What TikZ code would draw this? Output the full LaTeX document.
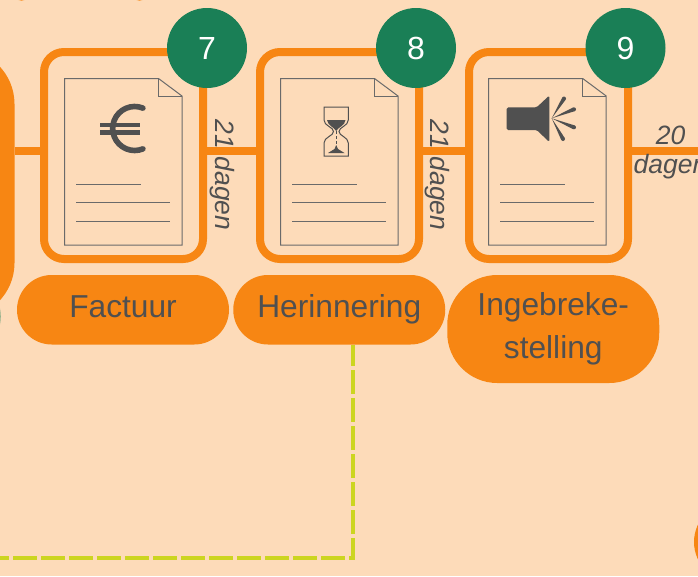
\documentclass[tikz,border=0pt]{standalone}
\usepackage{fontspec}
\usetikzlibrary{calc}
\setmainfont{Liberation Sans}
\definecolor{achter}{HTML}{FDDBB9}
\definecolor{oranje}{HTML}{F78613}
\definecolor{groen}{HTML}{1A7F56}
\definecolor{donker}{HTML}{505050}
\definecolor{lijn}{HTML}{CCD520}
\tikzset{
  frame/.style={draw=oranje, line width=8pt, rounded corners=20pt, minimum width=159pt, minimum height=207pt, outer sep=0pt},
  nummer/.style={circle, fill=groen, text=white, minimum size=80pt, inner sep=0pt, font=\fontsize{32}{32}\selectfont},
  pill/.style={fill=oranje, text=donker, rounded corners=34.7pt, minimum width=212pt, minimum height=69.5pt, inner sep=0pt, align=center, font=\fontsize{31.7}{43}\selectfont},
  stuk/.style={circle, fill=oranje, inner sep=0pt},
  link/.style={draw=oranje, line width=8pt},
  dagen/.style={text=donker, inner sep=0pt, align=center, font=\fontsize{26.5}{29}\selectfont\itshape},
  pagina/.style={draw=donker!85, line width=1pt},
  regel/.style={draw=donker!85, line width=0.9pt},
  icoon/.style={fill=donker, draw=none}
}
\begin{document}
\begin{tikzpicture}[x=1pt,y=-1pt]
  \useasboundingbox[fill=achter] (0,0) rectangle (698,576);

  % left edge and corner pieces
  \node[fill=oranje, rounded corners=55pt, minimum width=214.5pt, minimum height=269pt, inner sep=0pt, outer sep=0pt] (aanmaning) at (-92.75,183.5) {};
  \node[circle, fill=groen!45!achter, minimum size=80pt, inner sep=0pt] (nummerlinks) at (-39.2,316.5) {};
  \node[stuk, minimum size=16pt] (stuklinks) at (21.5,-7.4) {};
  \node[stuk, minimum size=16pt] (stukrechts) at (139.5,-7.4) {};
  \node[stuk, minimum size=80pt] (volgende) at (734,542) {};

  % frames
  \node[frame] (factuurframe) at (123.5,155.5) {};
  \node[frame] (herinneringframe) at (339.5,155.5) {};
  \node[frame] (ingebrekeframe) at (548.5,155.5) {};

  % links
  \coordinate (hoogte) at (0,151);
  \coordinate (rand) at (698,151);
  \draw[link] (aanmaning.east |- hoogte) -- (factuurframe.west |- hoogte);
  \draw[link] (factuurframe.east |- hoogte) -- (herinneringframe.west |- hoogte);
  \draw[link] (herinneringframe.east |- hoogte) -- (ingebrekeframe.west |- hoogte);
  \draw[link] (ingebrekeframe.east |- hoogte) -- (rand);

  % pages
  \foreach \px in {64.5,280.5,488.7} {
    \draw[pagina] (\px,78.5) -- (\px+94,78.5) -- (\px+117.5,96) -- (\px+117.5,245) -- (\px,245) -- cycle;
    \draw[pagina] (\px+94,78.5) -- (\px+94,96) -- (\px+117.5,96);
    \draw[regel] (\px+11.5,184) -- (\px+76.5,184);
    \draw[regel] (\px+11.5,202.5) -- (\px+105.5,202.5);
    \draw[regel] (\px+11.5,221) -- (\px+105.5,221);
  }

  % euro
  \draw[donker, line width=5.6pt, line cap=round] (142.9,108.1) arc[start angle=68, end angle=292, radius=22pt];
  \fill[icoon] (100,122.7) rectangle (140,127.3);
  \fill[icoon] (100,130) rectangle (140,134.7);

  % hourglass
  \draw[donker, line width=1pt] (324,107) -- (348.3,107) -- (348.3,120) .. controls (348.3,126) and (339,127) .. (339,131.5) .. controls (339,136) and (348.3,137) .. (348.3,143) -- (348.3,156) -- (324,156) -- (324,143) .. controls (324,137) and (333.5,136) .. (333.5,131.5) .. controls (333.5,127) and (324,126) .. (324,120) -- cycle;
  \fill[icoon] (327,120) -- (345.5,120) .. controls (345,126) and (338,127) .. (336.2,131) .. controls (334,127) and (328,126) .. (327,120) -- cycle;
  \fill[icoon] (328,153) -- (344.5,153) -- (338,149) -- (336.2,145) -- (334.5,149) -- cycle;
  \draw[donker, line width=1.2pt, dash pattern=on 3pt off 2pt] (336.2,131) -- (336.2,146);

  % speaker
  \fill[icoon, rounded corners=1.5pt] (506.7,107.3) -- (536.7,107.3) -- (549.3,95.5) -- (549.3,142) -- (536.7,130) -- (506.7,130) -- cycle;
  \coordinate (hub) at (551.7,118.3);
  \foreach \rx/\ry in {564/98.5,574/109.3,574/127.3,563/139} {
    \fill[icoon] (hub) -- ($(\rx,\ry)!2pt!90:(hub)$) -- ($(\rx,\ry)!2pt!-90:(hub)$) -- cycle;
    \fill[icoon] (\rx,\ry) circle (2pt);
  }

  % pills
  \node[pill, text depth=6.7pt] (factuur) at (123,309.75) {Factuur};
  \node[pill] (herinnering) at (339.25,309.75) {Herinnering};
  \node[pill, minimum height=108pt, rounded corners=50pt] (ingebreke) at (553.25,329) {Ingebreke-\\stelling};

  % dashed link
  \coordinate (hoek) at (353.2,558);
  \coordinate (eind) at (0,558);
  \draw[lijn, line width=4pt, dash pattern=on 24pt off 4pt, dash phase=2.3pt] (hoek |- herinnering.south) -- (hoek) -- (eind);

  % numbers
  \node[nummer] (zeven) at (207,48) {7};
  \node[nummer] (acht) at (416,48) {8};
  \node[nummer] (negen) at (625.5,48) {9};

  % day labels
  \node[dagen, rotate=-90] (dagen1) at (222,175) {21 dagen};
  \node[dagen, rotate=-90] (dagen2) at (437,175) {21 dagen};
  \node[dagen] (dagen3) at (670.5,152.5) {20\\dagen};
\end{tikzpicture}
\end{document}
